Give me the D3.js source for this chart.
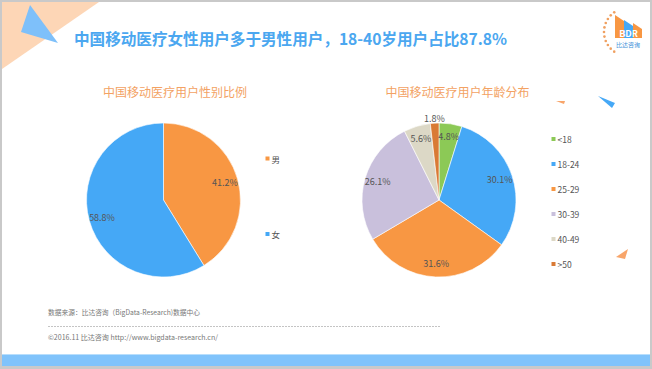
<!DOCTYPE html>
<html><head><meta charset="utf-8">
<script src="https://cdn.jsdelivr.net/npm/d3@7"></script>
<style>
html,body{margin:0;padding:0;background:#fff;}
svg{display:block;}
text{font-family:"Noto Sans CJK SC","Noto Sans",sans-serif;}
</style></head>
<body>
<svg id="c" width="652" height="369"></svg>
<script>
// ---- data ----
const titleText = "中国移动医疗女性用户多于男性用户，18-40岁用户占比87.8%";
const genderTitle = "中国移动医疗用户性别比例";
const genderCats = ["男", "女"];
const genderVals = [41.2, 58.8];
const genderColors = ["#f89743", "#45a8f6"];

const ageTitle = "中国移动医疗用户年龄分布";
const ageCats = ["<18", "18-24", "25-29", "30-39", "40-49", ">50"];
const ageVals = [4.8, 30.1, 31.6, 26.1, 5.6, 1.8];
const ageColors = ["#8cc956", "#45a8f6", "#f89743", "#c9c0dc", "#dcd8c6", "#d97a35"];

const sourceText = "数据来源：比达咨询（BigData-Research)数据中心";
const copyText = "©2016.11  比达咨询   http://www.bigdata-research.cn/";

const svg = d3.select("#c");
const W = 652, H = 369;

// frame
svg.append("rect").attr("width", W).attr("height", H).attr("fill", "#c9c9c9");
svg.append("rect").attr("x", 2).attr("y", 2).attr("width", W - 4).attr("height", H - 5).attr("fill", "#fff");
// bottom bar
svg.append("rect").attr("x", 2).attr("y", 354).attr("width", W - 4).attr("height", 12).attr("fill", "#80c3fb");
svg.append("rect").attr("x", 2).attr("y", 354).attr("width", W - 4).attr("height", 1).attr("fill", "#b8defc");

// decorative triangles
svg.append("path").attr("d", "M2,2 L99,2 L2,69 Z").attr("fill", "#fdd6b6");
svg.append("path").attr("d", "M30,5 L58,43 L21,32 Z").attr("fill", "#7ec0fa");
svg.append("path").attr("d", "M556,101 L565,101 L564,104 Z").attr("fill", "#f8a56a");
svg.append("path").attr("d", "M598,96 L615,103 L612,108 Z").attr("fill", "#45a8f6");
svg.append("path").attr("d", "M616,257 L628,249 L625,259 Z").attr("fill", "#f8a56a");

// title
svg.append("text").attr("x", 74).attr("y", 45)
  .attr("font-size", 16).attr("font-weight", "bold").attr("fill", "#4ba7f0")
  .attr("textLength", 433).attr("lengthAdjust", "spacingAndGlyphs")
  .text(titleText);

// logo
const logo = svg.append("g");
d3.range(125, 240, 11).forEach(a => {
  const r = a * Math.PI / 180;
  logo.append("circle").attr("cx", 628 + 24 * Math.cos(r)).attr("cy", 32 - 24 * Math.sin(r))
    .attr("r", 1.3).attr("fill", "#f0a060");
});
logo.append("path").attr("d", "M615,15 L624,21 L624,38 L615,38 Z").attr("fill", "#f89743");
logo.append("path").attr("d", "M624,20 L633,26 L633,38 L624,38 Z").attr("fill", "#45a8f6");
logo.append("path").attr("d", "M633,23 L642,29 L642,38 L633,38 Z").attr("fill", "#f89743");
logo.append("text").attr("x", 628.5).attr("y", 37).attr("text-anchor", "middle")
  .attr("font-size", 9).attr("font-weight", "bold").attr("fill", "#fff").text("BDR");
logo.append("text").attr("x", 628).attr("y", 47).attr("text-anchor", "middle")
  .attr("font-size", 6).attr("fill", "#3d8fd8").text("比达咨询");

// pie helper
function drawPie(cx, cy, r, cats, vals, colors, title, titleX, legendX, legendYs) {
  const g = svg.append("g").attr("transform", `translate(${cx},${cy})`);
  const pie = d3.pie().sort(null).value(d => d)(vals);
  const arc = d3.arc().innerRadius(0).outerRadius(r);
  g.selectAll("path.s").data(pie).join("path").attr("class", "s")
    .attr("d", arc).attr("fill", (d, i) => colors[i])
    .attr("stroke", "#fff").attr("stroke-width", 0.6);
  g.selectAll("text.l").data(pie).join("text").attr("class", "l")
    .attr("transform", d => {
      const lr = d.value < 3 ? r + 5 : r * 0.83;
      const c = d3.arc().innerRadius(lr).outerRadius(lr).centroid(d);
      return `translate(${c[0]},${c[1]})`;
    })
    .attr("text-anchor", "middle").attr("dominant-baseline", "central")
    .attr("font-size", 9).attr("fill", "#555")
    .text(d => d3.format(".1f")(d.value) + "%");
  svg.append("text").attr("x", titleX).attr("y", 97).attr("text-anchor", "middle")
    .attr("font-size", 12).attr("fill", "#f3a263").text(title);
  const lg = svg.append("g");
  cats.forEach((c, i) => {
    lg.append("rect").attr("x", legendX).attr("y", legendYs(i) - 2).attr("width", 4).attr("height", 4)
      .attr("fill", colors[i]);
    lg.append("text").attr("x", legendX + 6).attr("y", legendYs(i)).attr("dominant-baseline", "central")
      .attr("font-size", 8.5).attr("fill", "#555").text(c);
  });
}

drawPie(163.5, 200, 77, genderCats, genderVals, genderColors, genderTitle, 175, 265.5,
  d3.scalePoint().domain(d3.range(genderCats.length)).range([158.5, 234]));
drawPie(439, 200, 77, ageCats, ageVals, ageColors, ageTitle, 457.5, 551.5,
  d3.scalePoint().domain(d3.range(ageCats.length)).range([139, 264]));

// footer
svg.append("text").attr("x", 48).attr("y", 312).attr("dominant-baseline", "central")
  .attr("font-size", 7).attr("fill", "#777")
  .attr("textLength", 152).attr("lengthAdjust", "spacingAndGlyphs").text(sourceText);
svg.append("line").attr("x1", 48).attr("x2", 440).attr("y1", 326.5).attr("y2", 326.5)
  .attr("stroke", "#aaa").attr("stroke-width", 0.7).attr("stroke-dasharray", "2,1");
svg.append("text").attr("x", 48).attr("y", 337).attr("dominant-baseline", "central")
  .attr("font-size", 7).attr("fill", "#777")
  .attr("textLength", 170).attr("lengthAdjust", "spacingAndGlyphs").text(copyText);
</script>
</body></html>
